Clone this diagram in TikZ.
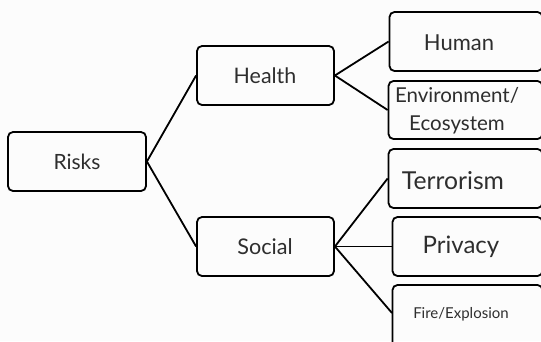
\documentclass[tikz,border=0pt]{standalone}
\usepackage{fontspec}
\setmainfont{Lato}
\definecolor{txtc}{HTML}{2E2E2E}
\definecolor{bgc}{HTML}{FCFCFC}
\begin{document}
\begin{tikzpicture}[x=1pt,y=-1pt,
  box/.style={draw=black, line width=1.8pt, rounded corners=5pt, inner sep=0pt},
  lbl/.style={text=txtc, inner sep=0pt, align=center},
  conn/.style={line width=1.8pt}]
\path[use as bounding box, fill=bgc] (0,0) rectangle (541,341);
\begin{scope}
\clip (0,0) rectangle (541,341);
% boxes
\node[box, minimum width=138pt, minimum height=59pt] (risks) at (77,161.5) {};
\node[box, minimum width=137pt, minimum height=59pt] (health) at (265.5,75.5) {};
\node[box, minimum width=137pt, minimum height=59pt] (social) at (265.5,246.5) {};
\node[box, minimum width=153pt, minimum height=59pt] (human) at (466,41.5) {};
\node[box, minimum width=154pt, minimum height=58pt] (env) at (465.5,110) {};
\node[box, minimum width=154pt, minimum height=59pt] (terr) at (465.5,178.5) {};
\node[box, minimum width=150pt, minimum height=59pt] (priv) at (467.5,246.5) {};
\node[box, minimum width=150pt, minimum height=64pt] (fire) at (467.5,317) {};
\coordinate (fireIn) at (392,313);
% labels
\node[lbl, font=\fontsize{21}{23}\selectfont] (tRisks) at (77,162) {Risks};
\node[lbl, font=\fontsize{21.4}{23}\selectfont] (tHealth) at (265,76) {Health};
\node[lbl, font=\fontsize{21.6}{23}\selectfont] (tSocial) at (265,247) {Social};
\node[lbl, font=\fontsize{22}{24}\selectfont] (tHuman) at (459,43) {Human};
\node[lbl, font=\fontsize{20.5}{27.5}\selectfont] (tEnv) at (457,110.5) {Environment/\\Ecosystem};
\node[lbl, font=\fontsize{24.7}{26}\selectfont] (tTerr) at (453,181) {Terrorism};
\node[lbl, font=\fontsize{24}{26}\selectfont] (tPriv) at (461,247) {Privacy};
\node[lbl, font=\fontsize{15}{17}\selectfont] (tFire) at (461,314) {Fire/Explosion};
% connectors
\draw[conn] (risks.east) -- (health.west);
\draw[conn] (risks.east) -- (social.west);
\draw[conn] (health.east) -- (human.west);
\draw[conn] (health.east) -- (env.west);
\draw[conn] (social.east) -- (terr.west);
\draw[conn] (social.east) -- (priv.west);
\draw[conn] (social.east) -- (fireIn);
\end{scope}
\end{tikzpicture}
\end{document}
